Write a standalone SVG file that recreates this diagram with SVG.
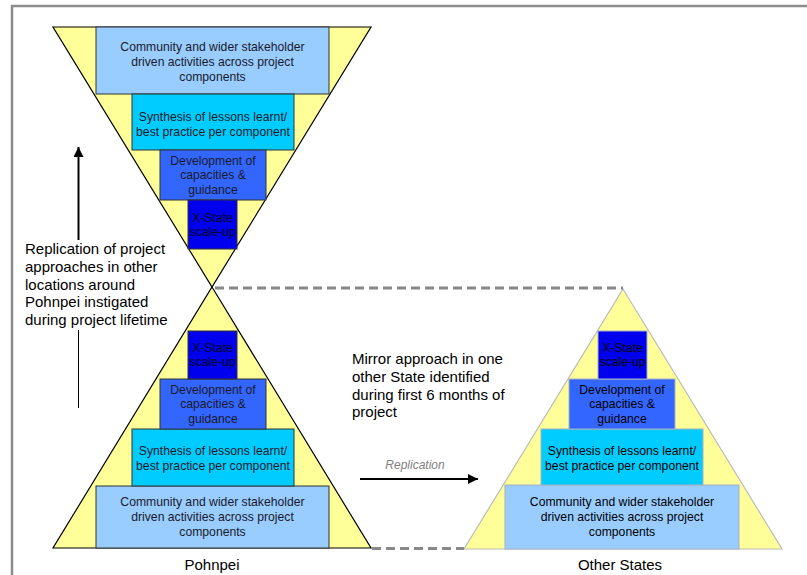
<svg xmlns="http://www.w3.org/2000/svg" width="807" height="575" viewBox="0 0 807 575">
<defs>
<style>
.tri{fill:#FFFF99;stroke:#000;stroke-width:1.2}
.tri2{fill:#FFFF99;stroke:#BBBBBB;stroke-width:1.2}
.b1{fill:#99CCFF}.b2{fill:#00CCFF}.b3{fill:#3366FF}.b4{fill:#0000EE}
.l{stroke:#333;stroke-width:1}
.r{stroke:#A8B0C8;stroke-width:1}
.bt{font-family:"Liberation Sans",Arial,sans-serif;font-size:12.2px;text-anchor:middle;fill:#1a1a2a}
.rt{fill:#000}
.big{font-family:"Liberation Sans",Arial,sans-serif;font-size:15px;fill:#000}
.cap{font-family:"Liberation Sans",Arial,sans-serif;font-size:15px;fill:#000;text-anchor:middle}
.rep{font-family:"Liberation Sans",Arial,sans-serif;font-size:12px;font-style:italic;fill:#808080;text-anchor:middle}
.dash{stroke:#888;stroke-width:3;stroke-dasharray:9,5;fill:none}
</style>
<marker id="ah" viewBox="0 0 10 10" refX="10" refY="5" markerWidth="5" markerHeight="5" markerUnits="strokeWidth" orient="auto">
<path d="M0,0 L10,5 L0,10 z" fill="#000"/>
</marker>
</defs>
<rect width="807" height="575" fill="#fff"/>
<path d="M12,575 L12,6 L807,6" fill="none" stroke="#8C8C8C" stroke-width="2.5"/>

<g id="top-funnel">
<polygon class="tri" points="53,27 371,27 212,287"/>
<rect class="b1 l" x="96" y="27" width="233" height="67"/>
<text class="bt" x="212.5"><tspan x="212.5" y="51">Community and wider stakeholder</tspan><tspan x="212.5" y="66">driven activities across project</tspan><tspan x="212.5" y="81">components</tspan></text>
<rect class="b2 l" x="132" y="94" width="162" height="56"/>
<text class="bt"><tspan x="213" y="121">Synthesis of lessons learnt/</tspan><tspan x="213" y="135.5">best practice per component</tspan></text>
<rect class="b3 l" x="160" y="150" width="106" height="50"/>
<text class="bt"><tspan x="213" y="165">Development of</tspan><tspan x="213" y="179.3">capacities &amp;</tspan><tspan x="213" y="193.5">guidance</tspan></text>
<rect class="b4 l" x="188" y="200" width="49" height="49"/>
<text class="bt" style="fill:#000022"><tspan x="212.5" y="221.7">X-State</tspan><tspan x="212.5" y="236">scale-up</tspan></text>
</g>

<g id="pohnpei-pyramid">
<polygon class="tri" points="212,287 371,548 53,548"/>
<rect class="b1 l" x="96" y="486" width="233" height="62"/>
<text class="bt"><tspan x="212.5" y="506">Community and wider stakeholder</tspan><tspan x="212.5" y="521">driven activities across project</tspan><tspan x="212.5" y="536">components</tspan></text>
<rect class="b2 l" x="132" y="429" width="162" height="57"/>
<text class="bt"><tspan x="213" y="455">Synthesis of lessons learnt/</tspan><tspan x="213" y="469.5">best practice per component</tspan></text>
<rect class="b3 l" x="160" y="379" width="106" height="50"/>
<text class="bt"><tspan x="213" y="394">Development of</tspan><tspan x="213" y="408.3">capacities &amp;</tspan><tspan x="213" y="422.5">guidance</tspan></text>
<rect class="b4 l" x="188" y="331" width="49" height="48"/>
<text class="bt" style="fill:#000022"><tspan x="212.5" y="352">X-State</tspan><tspan x="212.5" y="366.3">scale-up</tspan></text>
<text class="cap" x="212" y="570">Pohnpei</text>
</g>

<g id="other-states-pyramid">
<polygon class="tri2" points="623,289 782,549 464,549"/>
<rect class="b1 r" x="505" y="485" width="234" height="64"/>
<text class="bt rt"><tspan x="622" y="506">Community and wider stakeholder</tspan><tspan x="622" y="521">driven activities across project</tspan><tspan x="622" y="536">components</tspan></text>
<rect class="b2 r" x="541" y="429" width="162" height="56"/>
<text class="bt rt"><tspan x="622" y="455">Synthesis of lessons learnt/</tspan><tspan x="622" y="469.5">best practice per component</tspan></text>
<rect class="b3 r" x="569" y="379" width="106" height="50"/>
<text class="bt rt"><tspan x="622" y="394">Development of</tspan><tspan x="622" y="408.3">capacities &amp;</tspan><tspan x="622" y="422.5">guidance</tspan></text>
<rect class="b4 r" x="598" y="331" width="49" height="48"/>
<text class="bt rt"><tspan x="622.5" y="352">X-State</tspan><tspan x="622.5" y="366.3">scale-up</tspan></text>
<text class="cap" x="620" y="570">Other States</text>
</g>

<g id="label-replication-pohnpei">
<text class="big"><tspan x="25" y="254">Replication of project</tspan><tspan x="25" y="272">approaches in other</tspan><tspan x="25" y="289.5">locations around</tspan><tspan x="25" y="307">Pohnpei instigated</tspan><tspan x="25" y="325">during project lifetime</tspan></text>
</g>

<g id="label-mirror">
<text class="big"><tspan x="352" y="364">Mirror approach in one</tspan><tspan x="352" y="382">other State identified</tspan><tspan x="352" y="399.5">during first 6 months of</tspan><tspan x="352" y="417">project</tspan></text>
</g>

<g id="connectors">
<line class="dash" x1="215" y1="288" x2="623" y2="288"/>
<line class="dash" x1="372" y1="548.5" x2="464" y2="548.5"/>
<line x1="78.5" y1="240" x2="78.5" y2="147" stroke="#000" stroke-width="2" marker-end="url(#ah)"/>
<line x1="78.5" y1="330" x2="78.5" y2="408" stroke="#000" stroke-width="1"/>
<line x1="360" y1="479" x2="478" y2="479" stroke="#000" stroke-width="2" marker-end="url(#ah)"/>
<text class="rep" x="415" y="469">Replication</text>
</g>
</svg>
